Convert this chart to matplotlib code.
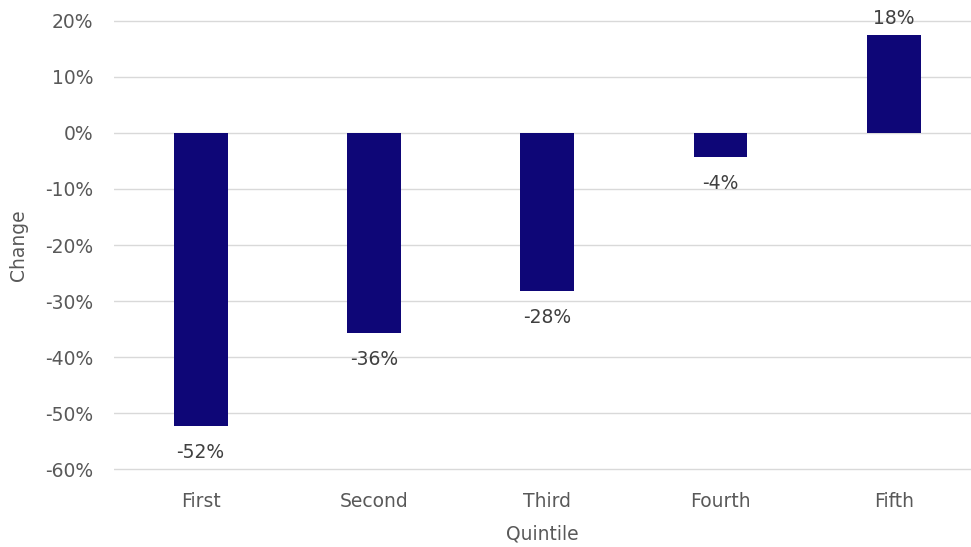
import matplotlib.pyplot as plt
from matplotlib.ticker import FuncFormatter

quintiles = ["First", "Second", "Third", "Fourth", "Fifth"]
change = [-52.4, -35.7, -28.2, -4.3, 17.5]

bar_color = "#0E0677"
text_color = "#595959"
grid_color = "#D9D9D9"

plt.rcParams["font.family"] = ["DejaVu Sans"]

fig = plt.figure(figsize=(9.71, 5.47), dpi=100)
# small margin so the top/bottom gridlines are not clipped
pad_px = 1.7
ax = fig.add_axes([114 / 971, 1 - (469 + pad_px) / 547,
                   1 - 114 / 971, (469 - 21 + 2 * pad_px) / 547])

x = range(len(quintiles))
ax.bar(x, change, width=0.31, color=bar_color, zorder=3)

for xi, v in zip(x, change):
    if v < 0:
        ax.annotate(f"{v:.0f}%", (xi, v), xytext=(0, -12), textcoords="offset points",
                    ha="center", va="top", fontsize=13.5, color="#404040")
    else:
        ax.annotate(f"{v:.0f}%", (xi, v), xytext=(0, 5), textcoords="offset points",
                    ha="center", va="bottom", fontsize=13.5, color="#404040")

ax.set_ylim(-60.3, 20.3)
ax.set_xlim(-0.5, 4.445)
ax.set_yticks(range(-60, 21, 10))
ax.yaxis.set_major_formatter(FuncFormatter(lambda v, p: f"{v:.0f}%"))
ax.set_xticks(list(x))
ax.set_xticklabels(quintiles)
ax.grid(axis="y", color=grid_color, linewidth=1, zorder=0)
ax.tick_params(axis="both", length=0, labelsize=13.5, labelcolor=text_color)
ax.tick_params(axis="x", pad=15)
ax.tick_params(axis="y", pad=15)
for s in ax.spines.values():
    s.set_visible(False)

ax.set_xlabel("Quintile", fontsize=13.5, color=text_color, labelpad=10)
ax.set_ylabel("Change", fontsize=13.5, color=text_color, labelpad=12)

fig.savefig("out.png", dpi=100)
